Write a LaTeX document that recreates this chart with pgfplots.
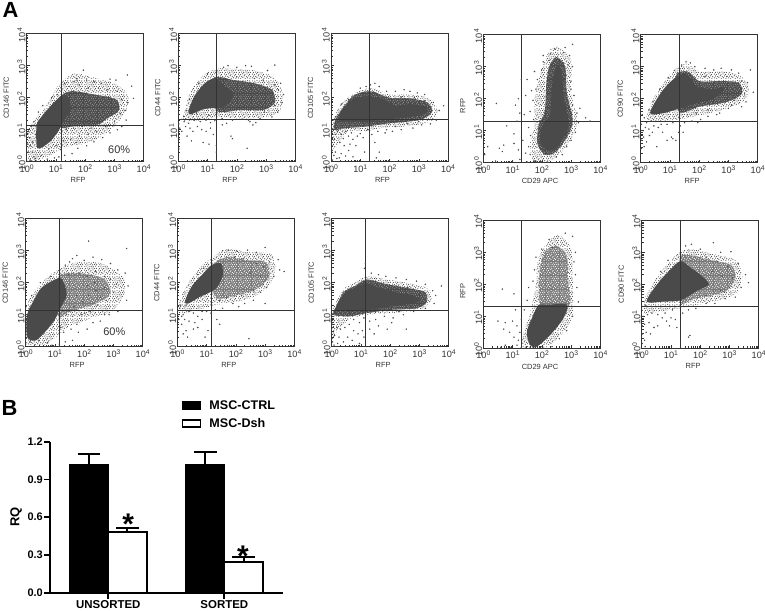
\documentclass[border=0pt]{standalone}
\usepackage{fontspec}
\setmainfont{Liberation Sans}
\usepackage{pgfplots}
\usetikzlibrary{patterns}
\pgfplotsset{compat=1.18}
\definecolor{dens}{HTML}{4A4A4A}
\definecolor{ink}{HTML}{333333}
\newcommand{\dd}[2]{\pgfpathcircle{\pgfqpoint{#1bp}{#2bp}}{.62bp}}
\pgfdeclarepatternformonly{speck}{\pgfqpoint{0bp}{0bp}}{\pgfqpoint{14bp}{14bp}}{\pgfqpoint{14bp}{14bp}}{%
\dd{.6}{1.2}\dd{2.9}{.4}\dd{5.2}{1.7}\dd{7.7}{.7}\dd{10.1}{1.4}\dd{12.6}{.5}%
\dd{1.7}{3.1}\dd{3.9}{2.6}\dd{6.6}{3.4}\dd{8.8}{2.8}\dd{11.3}{3.3}\dd{13.5}{2.4}%
\dd{.4}{5.2}\dd{2.6}{4.7}\dd{4.9}{5.5}\dd{7.4}{4.9}\dd{9.6}{5.4}\dd{12.2}{4.8}%
\dd{1.5}{6.9}\dd{3.7}{7.3}\dd{6.1}{6.8}\dd{8.5}{7.4}\dd{10.9}{6.9}\dd{13.2}{7}%
\dd{.8}{8.9}\dd{2.9}{9.4}\dd{5.4}{8.7}\dd{7.6}{9.2}\dd{9.9}{8.8}\dd{12.4}{9.3}%
\dd{1.9}{11}\dd{4.2}{10.7}\dd{6.5}{11.2}\dd{8.9}{10.8}\dd{11.2}{11.1}\dd{13.4}{10.9}%
\dd{.5}{12.8}\dd{3}{12.5}\dd{5.3}{13.1}\dd{7.8}{12.6}\dd{10.2}{13.2}\dd{12.5}{12.7}%
\pgfusepath{fill}}
\newcommand{\dec}[1]{10\raisebox{3.2bp}{\fontsize{6.8}{6.8}\selectfont #1}}
\def\minors{.301,.477,.602,.699,.778,.845,.903,.954,1.301,1.477,1.602,1.699,1.778,1.845,1.903,1.954,2.301,2.477,2.602,2.699,2.778,2.845,2.903,2.954,3.301,3.477,3.602,3.699,3.778,3.845,3.903,3.954}
\pgfplotsset{
  flow/.style={
    anchor=south west, scale only axis, width=117bp, height=128bp,
    xmin=0,xmax=4,ymin=0,ymax=4,
    xtick={0,1,2,3,4},ytick={0,1,2,3,4},
    xticklabels={\dec0,\dec1,\dec2,\dec3,\dec4},
    yticklabels={\dec0,\dec1,\dec2,\dec3,\dec4},
    minor xtick=\minors, minor ytick=\minors,
    xtick pos=bottom, ytick pos=left, tick align=inside,
    major tick length=3bp, minor tick length=1.8bp,
    every tick/.style={ink,line width=.5bp},
    axis line style={ink,line width=.8bp},
    xticklabel style={font=\fontsize{9.2}{9}\selectfont,text=ink,inner sep=1bp,yshift=-1.5bp},
    yticklabel style={font=\fontsize{9.2}{9}\selectfont,text=ink,rotate=90,anchor=south,inner sep=1bp,xshift=-1.5bp},
    xlabel style={font=\fontsize{7.5}{8}\selectfont,text=ink,at={(axis description cs:.44,-.12)},anchor=north,inner sep=0pt},
    ylabel style={font=\fontsize{7.5}{8}\selectfont,text=ink,at={(axis description cs:-.175,.5)},anchor=center,inner sep=0pt},
    clip=true,
  },
  hl/.style={pattern=speck,pattern color=dens,draw=none,smooth cycle,tension=.5,forget plot},
  md/.style={fill=dens,draw=none,smooth cycle,tension=.5,forget plot},
  ml/.style={fill=black!52,draw=none,smooth cycle,tension=.5,forget plot},
  mw/.style={pattern=speck,pattern color=black!42,draw=none,smooth cycle,tension=.5,forget plot},
  mx/.style={pattern=speck,pattern color=white,draw=none,smooth cycle,tension=.5,forget plot},
  cr/.style={fill=dens,draw=none,smooth cycle,tension=.5,forget plot},
  pt/.style={only marks,mark=*,mark size=.5bp,color=dens,mark options={draw=none,fill=dens},forget plot},
  gl/.style={ink,line width=.8bp,forget plot},
}
\newcommand{\midp}[1]{\addplot[md] coordinates {#1};\addplot[mw] coordinates {#1};}
\newcommand{\midl}[1]{\addplot[ml] coordinates {#1};\addplot[mx] coordinates {#1};}
\begin{document}
\begin{tikzpicture}
\useasboundingbox (0,0) rectangle (765bp,611bp);
\node[anchor=west,inner sep=0pt,font=\bfseries\fontsize{22}{22}\selectfont] at (2.5bp,601bp) {A};
\node[anchor=west,inner sep=0pt,font=\bfseries\fontsize{22}{22}\selectfont] at (1.5bp,203bp) {B};

% --- top row
\begin{axis}[flow,at={(26.7bp,449.3bp)},xlabel={RFP},ylabel={CD146 FITC}]
\addplot[hl] coordinates {(0,0)(0,.9)(.35,1.4)(.7,1.8)(1.1,2.4)(1.6,2.75)(2.2,2.65)(3,2.45)(3.45,2.1)(3.45,1.7)(3.05,1.15)(2.5,.75)(1.9,.55)(1.3,.45)(.8,.2)(.3,.02)};
\midp{(1.1,1.95)(1.5,2.2)(2.3,2.1)(3.05,1.95)(3.15,1.6)(2.75,1.35)(2.4,1.15)(1.7,1.12)(1.1,1.1)}
\addplot[cr] coordinates {(.34,.5)(.34,1.15)(.51,1.41)(.8,1.72)(1.17,2.05)(1.4,2.05)(1.5,1.6)(1.25,1.25)(1.08,.95)(.8,.63)(.46,.42)};
\addplot[pt] coordinates {(1.94,2.86)(1.7,2.6)(1.72,2.55)(1.62,2.5)(2.05,2.55)(2.3,2.5)(2.55,2.45)(2.85,2.58)(3.05,2.55)(3.44,2.71)(3.59,2.36)(3.65,1.98)(3.45,1.85)(3.38,1.6)(3.4,1.3)(3.25,1.1)(3.1,1)(2.85,.9)(2.6,.75)(2.3,.62)(2.05,.5)(1.75,.42)(1.55,.25)(1.3,.2)(1.15,.38)(.95,.12)(.7,.08)(.5,.2)(.3,.1)(.12,.05)(.05,.3)(.02,.55)(.1,.75)(.2,.62)(.3,.85)(.06,.95)(.15,1.1)(.25,1.25)(.4,1.55)(.55,1.75)(.85,2)(1.05,2.1)(1.3,2.45)(1.45,2.35)(1.8,2.4)(2.1,2.3)(2.45,2.3)(2.75,2.25)(3.1,2.2)(3.25,1.95)(3.2,1.5)(3,1.25)(2.7,1.1)(2.4,.95)(2.1,.85)(1.8,.8)(1.5,.7)(1.25,.65)(1.35,1)(1.6,1.05)(1.9,1.1)(2.2,1.05)(1,.5)(.75,.4)(.55,.55)(.2,.3)(.12,.5)(.25,.15)(1.1,.15)(1.7,.6)};
\addplot[gl] coordinates {(1.173,0)(1.173,4)};
\addplot[gl] coordinates {(0,1.143)(4,1.143)};
\node[font=\fontsize{11}{11}\selectfont,text=ink] at (axis cs:3.16,.36) {60\%};
\end{axis}

\begin{axis}[flow,at={(178.3bp,449.3bp)},xlabel={RFP},ylabel={CD44 FITC}]
\addplot[hl] coordinates {(.2,1.25)(.25,1.7)(.45,2.25)(.85,2.7)(1.3,2.9)(1.9,2.9)(2.6,2.85)(3.25,2.65)(3.55,2.2)(3.5,1.6)(3,1.4)(2.1,1.35)(1.4,1.4)(.8,1.3)};
\midp{(1.2,2.6)(1.9,2.55)(2.6,2.45)(3.2,2.25)(3.3,1.85)(2.92,1.62)(2.12,1.62)(1.3,1.6)}
\addplot[cr] coordinates {(.34,1.56)(.57,2.08)(.97,2.5)(1.31,2.6)(1.6,2.35)(1.9,2.15)(1.7,1.8)(1.43,1.7)(.86,1.64)(.46,1.49)};
\addplot[pt] coordinates {(1.7,3)(1.55,2.95)(2,2.95)(2.3,3)(2.5,2.98)(3.3,3.02)(3.05,2.85)(3.5,2.45)(3.6,2.1)(3.55,1.85)(3.4,1.55)(3.2,1.4)(2.8,1.35)(2.4,1.3)(2.45,1.25)(2.2,1.33)(1.85,1.3)(1.5,1.35)(1.25,1.28)(1.1,1.22)(.95,1.3)(.75,1.25)(.55,1.3)(.35,1.2)(.2,1.25)(.1,1.32)(.02,1.18)(.05,1.05)(.12,.95)(.25,1.1)(.4,1.05)(.5,.95)(.65,1.1)(.8,1)(.95,.95)(1.1,1.05)(1.2,.85)(1.05,.55)(.85,.6)(.45,.65)(.3,.8)(.03,.7)(.02,.4)(1.3,.5)(1.3,.3)(1.8,.8)(1.85,.72)(2.35,.42)(1.5,1.15)(1.65,1.2)(2.65,1.22)(2.55,1.15)(.18,1.42)(.28,1.6)(.38,1.95)(.7,2.45)(1,2.75)(3.3,2.4)(3.42,2.25)(3.3,1.75)(2.95,1.55)(1.05,1.45)(.62,1.5)(2,2.65)(2.6,2.6)(2.9,2.55)};
\addplot[gl] coordinates {(1.306,0)(1.306,4)};
\addplot[gl] coordinates {(0,1.32)(4,1.32)};
\end{axis}

\begin{axis}[flow,at={(331bp,449.3bp)},xlabel={RFP},ylabel={CD105 FITC}]
\addplot[hl] coordinates {(0,.9)(.05,1.25)(.3,1.75)(.8,2.15)(1.4,2.3)(2,2.1)(2.7,2.1)(3.3,2)(3.65,1.6)(3.4,1.25)(2.5,1.1)(1.7,1.05)(1.2,.95)(.6,.95)(.2,.5)(0,.4)};
\midp{(.1,1)(.2,1.4)(.75,2.05)(1.35,2.2)(2,2)(2.7,1.98)(3.3,1.85)(3.45,1.55)(3,1.3)(2,1.2)(1.2,1.1)(.5,1.05)}
\addplot[cr] coordinates {(.25,1.3)(.42,1.67)(.82,1.98)(1.34,2.05)(1.91,1.9)(2.2,1.75)(2.7,1.8)(3.2,1.72)(3.3,1.55)(2.94,1.43)(2.02,1.33)(1.39,1.28)(.77,1.25)};
\addplot[pt] coordinates {(1.5,2.45)(1.35,2.4)(1.2,2.35)(1,2.3)(1.65,2.35)(1.9,2.2)(2.2,2.2)(2.5,2.25)(2.7,2.2)(2.95,2.15)(3.2,2.1)(3.5,1.85)(3.7,1.6)(3.85,1.75)(3.6,1.3)(3.4,1.18)(3.1,1.15)(2.8,1.05)(2.4,1)(2.1,.95)(1.85,.9)(1.6,.95)(1.4,.85)(1.5,.6)(1.65,.3)(1.55,.12)(1.1,.75)(.9,.8)(.75,.7)(.85,.5)(.65,.55)(.6,.35)(.45,.5)(.35,.25)(.2,.1)(.1,.2)(.05,.05)(.04,.35)(.02,.6)(.15,.3)(.28,.12)(.5,.18)(.75,.15)(1.15,.3)(.6,.8)(.42,.72)(.3,.6)(.12,.7)(.08,1)(.15,.85)(.22,.95)(.35,.85)(.5,.95)(.7,.9)(1,.88)(1.25,1)(1.9,1)(2.2,1.1)(2.6,1.2)(3,1.25)(3.3,1.45)(3.2,1.9)(2.85,2)(2.4,2.02)(.6,1.95)(.35,1.8)(.15,1.4)};
\addplot[gl] coordinates {(1.326,0)(1.326,4)};
\addplot[gl] coordinates {(0,1.316)(4,1.316)};
\end{axis}

\begin{axis}[flow,at={(483.3bp,448.3bp)},xlabel={CD29 APC},ylabel={RFP},
  xlabel style={at={(axis description cs:.485,-.12)}},ylabel style={at={(axis description cs:-.175,.445)}}]
\addplot[hl] coordinates {(2.6,3.6)(3,3.2)(3,2.2)(3.2,1.4)(3.1,.9)(2.6,.25)(2.1,.02)(1.7,.05)(1.6,.6)(1.75,1.15)(1.75,2)(1.9,2.6)(2.05,3.1)(2.3,3.55)};
\midp{(2.5,3.3)(2.8,3)(2.85,2.2)(3.05,1.4)(2.95,.95)(2.5,.35)(2.1,.25)(1.85,.6)(1.9,1.2)(2.1,1.6)(2.15,2.4)(2.25,3)}
\addplot[cr] coordinates {(2.51,3.06)(2.69,2.8)(2.74,2.07)(2.91,1.34)(2.86,.97)(2.46,.45)(2.17,.4)(1.94,.66)(2,1.13)(2.29,1.55)(2.34,2.38)};
\addplot[pt] coordinates {(3.05,3.7)(2.8,3.6)(2.45,3.55)(2.3,3.4)(2.05,3.15)(2,2.9)(1.85,2.6)(1.8,2.3)(1.65,2.25)(1.7,1.95)(1.6,1.6)(1.72,1.35)(1.55,1.1)(1.62,.85)(1.55,.5)(1.6,.25)(1.75,.05)(1.95,.03)(2.2,.02)(2.5,.18)(2.7,.25)(2.85,.5)(3,.7)(3.15,.95)(3.25,1.25)(3.2,1.55)(3.05,1.8)(3.1,2.1)(3,2.55)(3.05,3)(2.95,3.35)(2.75,3.45)(3.5,1.4)(3.65,1.3)(.8,1.15)(.7,.55)(.55,.45)(.65,.35)(.15,.5)(.05,.25)(.42,.05)(1.05,.9)(1.15,1.3)(1.1,1.8)(1.2,2)(1.25,1.55)(1.05,.6)(1.2,.4)(1.45,.3)(1.35,.7)(1.4,1.5)(1.45,2.1)(1.5,2.6)(1.75,2.85)(.45,1.85)(1.3,2.6)(1,.05)(1.25,.1)(1.5,.02)(1.85,.02)(2.05,3.35)(2.25,3.2)(2.9,3.05)(3,2.3)(3.3,1.7)};
\addplot[gl] coordinates {(1.303,0)(1.303,4)};
\addplot[gl] coordinates {(0,1.306)(4,1.306)};
\end{axis}

\begin{axis}[flow,at={(640.7bp,448.3bp)},xlabel={RFP},ylabel={CD90 FITC}]
\addplot[hl] coordinates {(.2,1.35)(.35,1.85)(.75,2.45)(1.2,2.95)(1.6,3.1)(2,2.85)(2.9,2.85)(3.5,2.65)(3.7,2.2)(3.4,1.85)(2.6,1.6)(1.6,1.4)(1.3,1.35)(.6,1.3)};
\midp{(1.2,2.7)(1.6,2.85)(2,2.55)(2.7,2.55)(3.35,2.5)(3.45,2.15)(2.95,1.9)(2,1.75)(1.3,1.6)}
\addplot[cr] coordinates {(.32,1.55)(.72,2.22)(1.23,2.69)(1.6,2.75)(1.9,2.4)(2.4,2.3)(2.9,2.35)(2.5,2)(2,1.88)(1.35,1.7)(.78,1.55)};
\addplot[pt] coordinates {(1.55,3.15)(1.7,3.12)(1.4,3.05)(1.85,3)(2.2,2.95)(2.5,2.9)(2.75,2.95)(3.1,2.9)(3.35,2.8)(3.75,2.9)(3.65,2.5)(3.85,2.2)(3.6,1.9)(3.45,1.75)(3,1.7)(2.7,1.55)(2.3,1.45)(2.05,1.35)(1.75,1.3)(1.5,1.25)(1.45,.95)(1.3,.95)(1.05,.8)(1.1,.75)(.9,.7)(.75,.95)(.55,.5)(.6,1.1)(.45,1.15)(.35,1.3)(.2,1.25)(.12,1.4)(.05,1.5)(.02,1.2)(.08,1)(.16,1.1)(.28,1.05)(.1,.8)(.03,.7)(.2,.65)(.12,.5)(.02,.45)(.3,.85)(.4,.95)(.9,1.2)(1.1,1.25)(1.6,1.5)(1.9,1.55)(2.3,1.65)(3.2,1.95)(3.55,2.15)(3.45,2.55)(2.95,2.7)(2.2,2.7)(1.2,.7)(1.35,1.15)(.7,1.2)(.28,1.65)(.42,1.9)(.65,2.3)(.95,2.65)(1.15,2.88)(1.95,1.25)(2.6,1.5)(3.1,1.8)};
\addplot[gl] coordinates {(1.32,0)(1.32,4)};
\addplot[gl] coordinates {(0,1.306)(4,1.306)};
\end{axis}

% --- bottom row
\begin{axis}[flow,at={(25.7bp,264.3bp)},xlabel={RFP},ylabel={CD146 FITC}]
\addplot[hl] coordinates {(0,.02)(0,1.2)(.3,1.7)(.7,2.15)(1.2,2.45)(1.8,2.65)(2.6,2.6)(3.35,2.15)(3.35,1.6)(2.95,1.1)(2.4,.95)(2,.8)(1.5,.65)(1.1,.35)(.6,.05)};
\midl{(1.1,2.15)(1.6,2.3)(2.2,2.25)(2.7,2.1)(2.9,1.65)(2.4,1.35)(1.9,1.2)(1.4,1.05)(1.1,.95)}
\addplot[cr] coordinates {(.05,.3)(.05,1)(.25,1.4)(.55,1.85)(1.15,2.15)(1.3,2)(1.4,1.6)(1.15,1.15)(1,.85)(.7,.5)(.35,.2)};
\addplot[pt] coordinates {(2.15,3.3)(3.45,3.07)(1.6,2.75)(1.75,2.85)(1.5,2.65)(1.35,2.55)(2,2.7)(2.3,2.8)(2.6,2.72)(2.9,2.6)(3.15,2.4)(3.4,2.3)(3.5,1.9)(3.45,1.45)(3.15,1.1)(2.85,1)(2.55,.8)(2.3,.75)(2.1,.55)(1.8,.45)(1.6,.2)(1.35,.15)(1.15,.08)(.9,.05)(.75,.12)(1.3,.45)(1.55,.55)(1.75,.7)(1.9,1)(2.2,1.1)(2.45,1.3)(2.75,1.45)(3,1.7)(3.1,1.95)(2.7,2.2)(2.4,2.35)(2.1,2.2)(1.85,2.3)(1.45,2.25)(2.15,1.6)(2.4,1.75)(2.55,1.55)(1.95,1.4)(1.65,1.25)(1.4,1)(1.6,.95)(1.2,.6)(2.7,1)(.2,1.6)(.5,2)(.85,2.2)(.15,.15)(.3,.05)(.45,.2)(2.1,1.9)(2.35,2)(2.7,1.85)(2.9,2.1)(1.75,1.6)(2,1.05)};
\addplot[gl] coordinates {(1.142,0)(1.142,4)};
\addplot[gl] coordinates {(0,1.14)(4,1.14)};
\node[font=\fontsize{11}{11}\selectfont,text=ink] at (axis cs:3.03,.46) {60\%};
\end{axis}

\begin{axis}[flow,at={(177.3bp,264.3bp)},xlabel={RFP},ylabel={CD44 FITC}]
\addplot[hl] coordinates {(.05,1.05)(.1,1.5)(.45,2.1)(.85,2.55)(1.3,2.85)(1.7,3.05)(2.5,2.95)(3.2,2.9)(3.35,2.5)(3.2,2)(2.7,1.6)(2,1.4)(1.3,1.3)(.7,1.15)};
\midl{(1.2,2.5)(1.7,2.8)(2.4,2.7)(3,2.65)(3.15,2.2)(2.7,1.8)(2,1.6)(1.3,1.55)}
\addplot[cr] coordinates {(.26,1.41)(.49,1.88)(.89,2.29)(1.17,2.55)(1.5,2.6)(1.55,2.2)(1.3,1.8)(.78,1.56)(.38,1.35)};
\addplot[pt] coordinates {(3,3.1)(1.75,3.02)(1.55,3)(2.05,2.98)(2.4,3.02)(2.7,2.95)(3.45,2.72)(3.5,2.4)(3.65,2.35)(3.3,2.2)(3.05,1.85)(2.85,1.7)(3,1.35)(2.6,1.45)(2.3,1.35)(2.1,1.25)(1.9,1.35)(1.55,1.2)(1.3,1.15)(1.15,1.05)(1,1.1)(.85,1.1)(.7,.95)(.55,1.05)(.4,1.1)(.2,1)(.08,1.2)(.03,1)(.05,.85)(.15,.7)(.3,.5)(.2,.4)(.35,.3)(.55,.55)(.7,.6)(1.05,.5)(1.35,.85)(1.45,.7)(2.45,.25)(.95,.3)(.25,.85)(.4,.8)(.6,.75)(.85,.85)(.15,.95)(.3,1.3)(.12,1.3)(2.7,2.6)(2.95,2.5)(2.85,2.2)(2.5,2.3)(2.6,1.75)(2.2,1.6)(1.7,1.55)(1.45,1.45)(3.15,2.65)(2.25,2.75)(1.95,2.8)(.9,2.45)(.7,2.25)};
\addplot[gl] coordinates {(1.165,0)(1.165,4)};
\addplot[gl] coordinates {(0,1.14)(4,1.14)};
\end{axis}

\begin{axis}[flow,at={(331.7bp,264.3bp)},xlabel={RFP},ylabel={CD105 FITC}]
\addplot[hl] coordinates {(0,.85)(.05,1.2)(.4,1.8)(.8,2)(1.2,2.2)(1.9,2.1)(2.8,1.95)(3.3,1.8)(3.4,1.45)(3,1.15)(2,1.05)(1.2,1)(.6,.85)(.2,.5)(0,.2)};
\midp{(.05,1)(.15,1.25)(.4,1.7)(.8,1.9)(1.2,2.1)(1.9,1.95)(2.8,1.8)(3.2,1.7)(3.25,1.4)(2.9,1.2)(2,1.15)(1.2,1.05)(.6,.95)}
\addplot[cr] coordinates {(.17,1.15)(.4,1.62)(.74,1.82)(1.17,1.98)(1.6,1.85)(2.2,1.7)(2.8,1.6)(2.95,1.4)(2,1.25)(1.2,1.15)};
\addplot[pt] coordinates {(1.15,2.6)(1.12,2.45)(1.35,2.3)(1.6,2.25)(1.85,2.2)(2.2,2.15)(2.55,2.1)(2.9,2.05)(3.2,1.95)(3.45,1.75)(3.75,1.9)(3.55,1.6)(3.5,1.35)(3.2,1.2)(2.8,1.1)(2.45,1)(2.1,.9)(1.8,.95)(1.5,.85)(1.3,.8)(1.1,.9)(1.05,.5)(1.3,.55)(1.45,.4)(1.6,.65)(1.9,.55)(2.05,.75)(2.55,.55)(1.1,.3)(.95,.1)(.7,.2)(.9,.4)(.75,.5)(.55,.3)(.4,.15)(.2,.1)(.08,.05)(.03,.15)(.45,.6)(.6,.7)(.3,.55)(.18,.6)(.75,.85)(.95,.75)(2.3,1.1)(2.7,1.25)(3.05,1.35)(3.15,1.7)(2.6,1.85)(2.2,1.9)(.02,.7)(.1,.35)(.25,.3)};
\addplot[gl] coordinates {(1.162,0)(1.162,4)};
\addplot[gl] coordinates {(0,1.14)(4,1.14)};
\end{axis}

\begin{axis}[flow,at={(483.3bp,262.7bp)},xlabel={CD29 APC},ylabel={RFP},
  xlabel style={at={(axis description cs:.485,-.12)}},ylabel style={at={(axis description cs:-.175,.445)}}]
\addplot[hl] coordinates {(2.55,3.55)(3,3.1)(3.05,2.2)(3.1,1.3)(2.9,.7)(2.3,.1)(1.9,0)(1.35,.02)(1.35,.4)(1.6,1.1)(1.8,2)(1.85,2.7)(2.1,3.2)};
\midl{(2.5,3.2)(2.85,2.9)(2.9,2.1)(2.95,1.35)(2.3,1.35)(1.95,1.36)(1.9,2.1)(2,2.8)(2.2,3.1)}
\addplot[cr] coordinates {(1.89,1.36)(2.17,1.36)(2.86,1.36)(2.74,.94)(2.29,.42)(1.83,.05)(1.6,.1)(1.49,.52)(1.71,1.04)};
\addplot[pt] coordinates {(3.05,3.5)(2.8,3.6)(2.25,3.4)(2.35,3.15)(2,3.1)(1.8,2.85)(1.75,2.45)(1.7,2.1)(1.55,1.9)(1.5,1.5)(1.4,1.2)(1.3,.9)(1.25,.5)(1.2,.25)(1.3,.03)(.95,.02)(.6,.03)(.75,.1)(1.05,.35)(.9,.5)(.7,.6)(.5,.85)(.75,.8)(.65,1.85)(1.1,1.2)(1.05,1.7)(1,.85)(1.15,.7)(1.15,.1)(3.15,3)(3.1,2.7)(3.15,2.3)(3.2,1.9)(3.25,1.45)(3.05,1)(2.85,.55)(2.6,.3)(2.35,.05)};
\addplot[gl,line width=1.1bp] coordinates {(1.303,0)(1.303,4)};
\addplot[gl,line width=1.1bp] coordinates {(0,1.307)(4,1.307)};
\end{axis}

\begin{axis}[flow,at={(641.7bp,262.7bp)},xlabel={RFP},ylabel={CD90 FITC}]
\addplot[hl] coordinates {(0,1.1)(.1,1.55)(.5,2.2)(.95,2.7)(1.3,3)(1.7,3.1)(2.4,2.95)(3.2,2.75)(3.45,2.2)(3.2,1.7)(2.6,1.5)(1.9,1.35)(1.3,1.25)(.6,1.15)};
\midl{(1.3,2.8)(1.7,2.9)(2.4,2.75)(3.05,2.6)(3.2,2.2)(2.9,1.8)(2.4,1.65)(1.8,1.55)(1.3,1.45)}
\addplot[cr] coordinates {(.17,1.46)(.51,1.98)(.97,2.45)(1.33,2.72)(1.7,2.5)(2,2.3)(2.3,2)(1.9,1.8)(1.33,1.5)(.74,1.46)};
\addplot[pt] coordinates {(1.5,3.2)(1.7,3.25)(2,3.1)(2.45,3.3)(3.05,3.02)(2.7,3)(3.3,2.65)(3.55,2.3)(3.65,2.05)(3.4,1.9)(3.2,1.6)(2.85,1.55)(2.5,1.4)(2.2,1.4)(1.85,1.25)(1.6,1.2)(1.4,1.1)(1.15,.9)(1,.95)(.85,.85)(.7,.95)(.55,1.05)(.35,1.1)(.2,1.05)(.05,1)(.02,.7)(.1,.75)(.25,.8)(.42,.65)(.55,.7)(.15,.5)(.03,.45)(.3,.45)(.1,.25)(.02,.15)(.12,.05)(1.6,.35)(1.65,.4)(1.2,.65)(.95,.7)(1.05,1.2)(.8,1.1)(.35,1.3)(.12,1.35)(.9,2.75)(.65,2.4)(2.2,2.85)(2.6,2.7)(2.95,2.55)(3.1,2.2)(2.75,2.25)(2.4,2.4)(2.7,1.8)(2.2,1.65)(3,1.9)};
\addplot[gl] coordinates {(1.32,0)(1.32,4)};
\addplot[gl] coordinates {(0,1.307)(4,1.307)};
\end{axis}

% --- bar chart
\begin{axis}[
  at={(50bp,18.3bp)},anchor=south west,scale only axis,width=232.7bp,height=151bp,
  xmin=-.503,xmax=1.503,ymin=0,ymax=1.2,
  axis x line=bottom,axis y line=left,
  axis line style={line width=1.8bp,-},
  xtick={0,1},xticklabels={UNSORTED,SORTED},
  ytick={0,.3,.6,.9,1.2},yticklabels={0.0,0.3,0.6,0.9,1.2},
  tick style={line width=1.8bp,black},tick align=outside,major tick length=6bp,
  xticklabel style={font=\bfseries\fontsize{11.5}{12}\selectfont,inner sep=1bp,yshift=-1bp},
  yticklabel style={font=\bfseries\fontsize{11}{12}\selectfont,inner sep=1bp},
  ylabel={RQ},ylabel style={font=\bfseries\fontsize{13}{13}\selectfont,at={(axis description cs:-.146,.5)},anchor=center,inner sep=0pt},
  ybar=0pt,bar width=38.3bp,
  legend image code/.code={\draw[#1,line width=1.8bp] (0bp,-3.6bp) rectangle (18bp,3.6bp);},
  legend style={at={(axis description cs:.565,1.285)},anchor=north west,draw=none,fill=none,
    font=\bfseries\fontsize{12.6}{12.6}\selectfont,row sep=3bp,inner sep=0pt,
    /tikz/every odd column/.append style={column sep=6bp}},
  legend cell align=left,
  clip=false,
]
\addplot[draw=black,fill=black,line width=1.8bp,
  error bars/.cd,y dir=plus,y explicit,
  error bar style={line width=2bp,black},error mark options={rotate=90,mark size=11.3bp,line width=2bp,black}]
  coordinates {(0,1.015)+-(0,.085)(1,1.015)+-(0,.1)};
\addplot[draw=black,fill=white,line width=1.8bp,
  error bars/.cd,y dir=plus,y explicit,
  error bar style={line width=2bp,black},error mark options={rotate=90,mark size=11.3bp,line width=2bp,black}]
  coordinates {(0,.482)+-(0,.035)(1,.247)+-(0,.034)};
\legend{MSC-CTRL,MSC-Dsh}
\node[font=\bfseries\fontsize{30}{30}\selectfont,inner sep=0pt] at (axis cs:.17,.545) {*};
\node[font=\bfseries\fontsize{30}{30}\selectfont,inner sep=0pt] at (axis cs:1.16,.29) {*};
\end{axis}
\end{tikzpicture}
\end{document}
